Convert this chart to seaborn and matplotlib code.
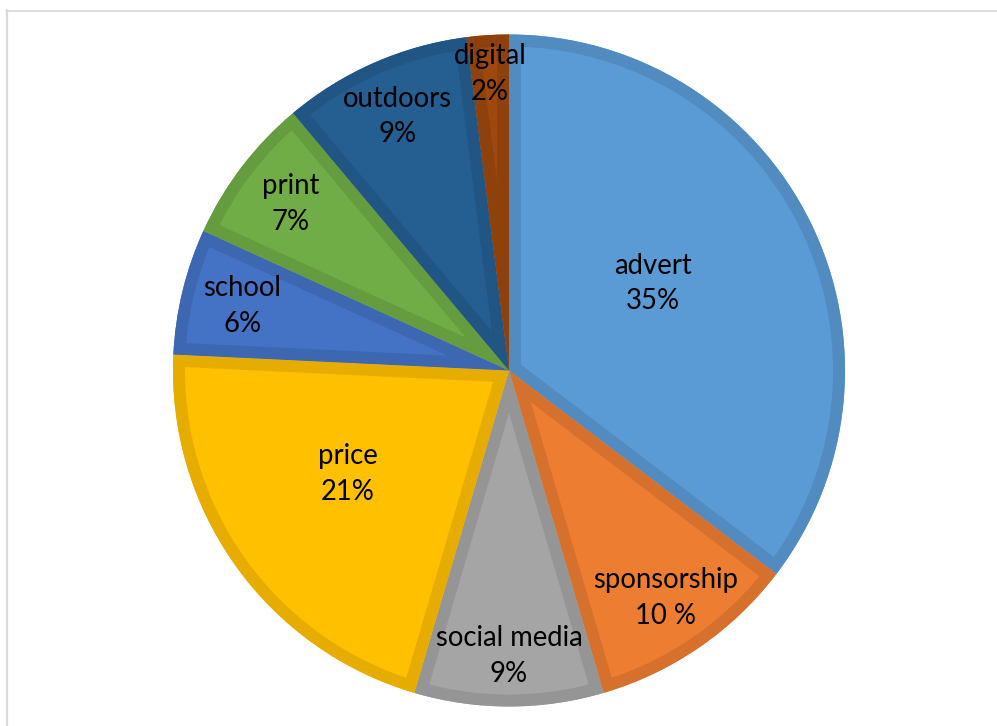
import numpy as np
import matplotlib
matplotlib.use("Agg")
import matplotlib.pyplot as plt
from matplotlib.patches import Wedge
from matplotlib.lines import Line2D
import matplotlib.colors as mcolors
import seaborn as sns

# Marketing channel shares (percent), clockwise from 12 o'clock
categories = ["advert", "sponsorship", "social media", "price",
              "school", "print", "outdoors", "digital"]
shares = [35, 10, 9, 21, 6, 7, 9, 2]
pct_labels = ["35%", "10 %", "9%", "21%", "6%", "7%", "9%", "2%"]

colors = ["#5B9BD5", "#ED7D31", "#A5A5A5", "#FFC000",
          "#4472C4", "#70AD47", "#255E91", "#9E480E"]

# label placement: radial distance (fraction of radius) and angular nudge (deg, clockwise)
label_radius = [0.50, 0.823, 0.85, 0.57, 0.816, 0.818, 0.825, 0.884]
label_nudge = [-4.8, 0, 0, 2.8, 0, 0, 0, 0]

sns.set_theme(style="white")
plt.rcParams["font.family"] = ["Lato", "DejaVu Sans"]
palette = sns.color_palette(colors)

W, H, DPI = 997, 726, 100
fig = plt.figure(figsize=(W / DPI, H / DPI), dpi=DPI)
fig.patch.set_facecolor("white")
ax = fig.add_axes([0, 0, 1, 1])

# pie geometry in pixels -> data units (radius = 1)
cx, cy, rad = 509, 370.5, 336

wedges, _ = ax.pie(shares, colors=palette, startangle=90, counterclock=False,
                   radius=1.0, center=(0, 0), frame=True,
                   wedgeprops=dict(linewidth=0))
ax.set_xlim(-cx / rad, (W - cx) / rad)
ax.set_ylim(-(H - cy) / rad, cy / rad)
ax.set_aspect("auto")
ax.set_axis_off()

# inner border in a darker shade of each slice
border_px = 24
for w, c in zip(wedges, palette):
    dark = tuple(np.array(mcolors.to_rgb(c)) * 0.9)
    edge = Wedge(w.center, w.r, w.theta1, w.theta2, facecolor="none",
                 edgecolor=dark, linewidth=border_px * 72 / DPI, zorder=w.get_zorder() + 0.1)
    ax.add_patch(edge)
    edge.set_clip_path(w)

for w, name, pct, r, nudge in zip(wedges, categories, pct_labels, label_radius, label_nudge):
    mid = np.deg2rad((w.theta1 + w.theta2) / 2 - nudge)
    ax.text(r * np.cos(mid), r * np.sin(mid), f"{name}\n{pct}",
            ha="center", va="center", fontsize=19.8, linespacing=1.47,
            color="black", zorder=10)

# light chart-area frame
frame_c = "#D9D9D9"
fig.add_artist(Line2D([6.5 / W, 6.5 / W], [0, 1 - 10 / H], transform=fig.transFigure,
                      color=frame_c, linewidth=1.6))
fig.add_artist(Line2D([6 / W, 1], [1 - 10.5 / H, 1 - 10.5 / H], transform=fig.transFigure,
                      color=frame_c, linewidth=1.2))

fig.savefig("out.png", dpi=DPI, facecolor="white")
